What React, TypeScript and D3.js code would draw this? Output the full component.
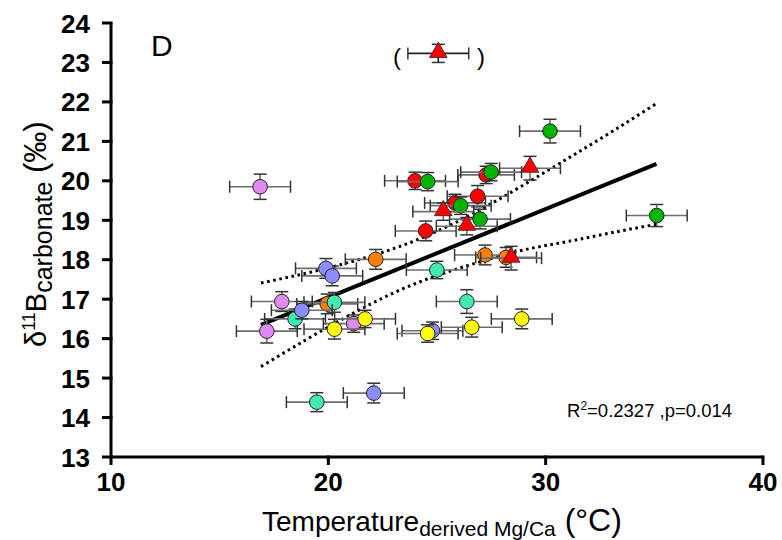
import React from 'react';
import * as d3 from 'd3';

// values (x = temperature °C, y = d11B ‰, xe/ye = error half-widths)
const violetPts = [
  [16.86, 19.85, 1.4, 0.32],
  [17.86, 16.94, 1.4, 0.25],
  [17.17, 16.19, 1.4, 0.3],
  [21.17, 16.38, 1.4, 0.22],
];
const bluePts = [
  [19.89, 17.78, 1.4, 0.25],
  [20.18, 17.59, 1.4, 0.25],
  [18.78, 16.72, 1.4, 0.22],
  [24.79, 16.2, 1.4, 0.22],
  [22.09, 14.62, 1.4, 0.25],
];
const tealPts = [
  [18.47, 16.5, 1.4, 0.25],
  [20.28, 16.92, 1.4, 0.25],
  [24.99, 17.74, 1.4, 0.22],
  [26.37, 16.94, 1.4, 0.3],
  [19.47, 14.39, 1.4, 0.24],
];
const orangePts = [
  [22.18, 18.01, 1.4, 0.25],
  [19.95, 16.88, 1.4, 0.25],
  [27.21, 18.12, 1.4, 0.25],
  [28.18, 18.06, 1.4, 0.25],
];
const yellowPts = [
  [20.28, 16.24, 1.4, 0.25],
  [21.69, 16.5, 1.4, 0.22],
  [24.57, 16.13, 1.4, 0.22],
  [26.6, 16.29, 1.4, 0.25],
  [28.9, 16.5, 1.4, 0.25],
];
const redPts = [
  [23.99, 20.0, 1.4, 0.22],
  [27.26, 20.15, 1.3, 0.22],
  [26.87, 19.61, 1.4, 0.27],
  [25.83, 19.44, 1.4, 0.22],
  [24.48, 18.73, 1.4, 0.25],
];
const greenPts = [
  [24.57, 19.98, 1.4, 0.23],
  [27.49, 20.22, 1.4, 0.22],
  [26.09, 19.37, 1.4, 0.22],
  [26.98, 19.03, 1.4, 0.25],
  [30.2, 21.26, 1.4, 0.3],
  [35.11, 19.12, 1.4, 0.28],
];
const redTriPts = [
  [29.28, 20.32, 1.4, 0.3],
  [25.29, 19.22, 1.4, 0.22],
  [26.37, 18.85, 1.4, 0.22],
  [28.41, 18.04, 1.4, 0.3],
];
const outlierPts = [[25.06, 23.23, 1.4, 0.23]];

const fitLine = [[16.9, 16.35], [35.1, 20.43]];
const upperBand = [[16.9, 17.41], [19, 17.66], [21, 17.94], [23, 18.28], [25, 18.72], [27, 19.27], [29, 19.9], [31, 20.56], [33, 21.23], [35.1, 21.96]];
const lowerBand = [[16.9, 15.29], [19, 15.98], [21, 16.6], [23, 17.16], [25, 17.6], [27, 17.95], [29, 18.25], [31, 18.46], [33, 18.68], [35.1, 18.9]];

const xTicks = [10, 20, 30, 40];
const yTicks = [13, 14, 15, 16, 17, 18, 19, 20, 21, 22, 23, 24];

const series = [
  { pts: orangePts, fill: '#ff8000', shape: 'circle', bar: '#6e6e6e' },
  { pts: tealPts, fill: '#40eab0', shape: 'circle', bar: '#6e6e6e' },
  { pts: violetPts, fill: '#e08af2', shape: 'circle', bar: '#6e6e6e' },
  { pts: bluePts, fill: '#8c8cff', shape: 'circle', bar: '#6e6e6e' },
  { pts: yellowPts, fill: '#ffff00', shape: 'circle', bar: '#6e6e6e' },
  { pts: redPts, fill: '#ff0000', shape: 'circle', bar: '#6e6e6e' },
  { pts: greenPts, fill: '#00b400', shape: 'circle', bar: '#6e6e6e' },
  { pts: redTriPts, fill: '#ff0000', shape: 'tri', bar: '#6e6e6e' },
  { pts: outlierPts, fill: '#ff0000', shape: 'tri', bar: '#222' },
];

const W = 782;
const H = 540;
const x = d3.scaleLinear().domain([10, 40]).range([111, 763]);
const y = d3.scaleLinear().domain([13, 24]).range([457, 23]);
const font = "'Liberation Sans', Arial, sans-serif";

const App = () => {
  const line = d3.line<number[]>().x(d => x(d[0])).y(d => y(d[1]));
  const band = d3.line<number[]>().x(d => x(d[0])).y(d => y(d[1])).curve(d3.curveNatural);
  const tri = d3.symbol().type(d3.symbolTriangle).size(135);

  return (
    <svg width={W} height={H} style={{ position: 'absolute', left: 0, top: 0, background: '#fff' }}>
      {/* fit + confidence band */}
      <path d={band(upperBand)!} fill="none" stroke="#000" strokeWidth={3} strokeDasharray="2.6 3.6" />
      <path d={band(lowerBand)!} fill="none" stroke="#000" strokeWidth={3} strokeDasharray="2.6 3.6" />
      <path d={line(fitLine)!} fill="none" stroke="#000" strokeWidth={4} />

      {series.map((s, si) => (
        <g key={si}>
          {s.pts.map((d, i) => {
            const cx = x(d[0]), cy = y(d[1]);
            const x0 = x(d[0] - d[2]), x1 = x(d[0] + d[2]);
            const y0 = y(d[1] + d[3]), y1 = y(d[1] - d[3]);
            return (
              <g key={i}>
                <line x1={x0} x2={x1} y1={cy} y2={cy} stroke={s.bar} strokeWidth={1.6} />
                <line x1={x0} x2={x0} y1={cy - 6} y2={cy + 6} stroke="#333" strokeWidth={1.5} />
                <line x1={x1} x2={x1} y1={cy - 6} y2={cy + 6} stroke="#333" strokeWidth={1.5} />
                <line x1={cx} x2={cx} y1={y0} y2={y1} stroke={s.bar} strokeWidth={1.6} />
                <line x1={cx - 6.5} x2={cx + 6.5} y1={y0} y2={y0} stroke="#333" strokeWidth={1.5} />
                <line x1={cx - 6.5} x2={cx + 6.5} y1={y1} y2={y1} stroke="#333" strokeWidth={1.5} />
              </g>
            );
          })}
          {s.pts.map((d, i) =>
            s.shape === 'circle' ? (
              <circle key={'m' + i} cx={x(d[0])} cy={y(d[1])} r={7.3} fill={s.fill} stroke="#222" strokeWidth={1} />
            ) : (
              <path key={'m' + i} d={tri()!} transform={`translate(${x(d[0])},${y(d[1]) - 1})`} fill={s.fill} stroke="#222" strokeWidth={0.8} />
            )
          )}
        </g>
      ))}

      {/* axes */}
      <g stroke="#000" strokeWidth={3} fill="none">
        <line x1={x(10)} x2={x(40)} y1={y(13)} y2={y(13)} />
        <line x1={x(10)} x2={x(10)} y1={y(13) + 1.5} y2={y(24)} />
        {xTicks.map(t => (
          <line key={'xt' + t} x1={x(t)} x2={x(t)} y1={y(13) - 1.5} y2={y(13) + 8} />
        ))}
        {yTicks.map(t => (
          <line key={'yt' + t} x1={x(10) - 9} x2={x(10) + 1.5} y1={y(t)} y2={y(t)} />
        ))}
      </g>
      <g fontFamily={font} fontWeight="bold" fontSize={26} fill="#000">
        {xTicks.map(t => (
          <text key={'xl' + t} x={x(t)} y={491} textAnchor="middle">{t}</text>
        ))}
        {yTicks.map(t => (
          <text key={'yl' + t} x={90} y={y(t) + 9.5} textAnchor="end">{t}</text>
        ))}
      </g>

      {/* titles */}
      <text x={262} y={531} fontFamily={font} fontSize={28} fill="#000">
        Temperature
        <tspan fontSize={21} dy={5}>derived Mg/Ca</tspan>
        <tspan fontSize={32} dy={-5}> (°C)</tspan>
      </text>
      <text transform="translate(46,347) rotate(-90)" fontFamily={font} fontSize={29} fill="#000">
        δ<tspan fontSize={18} dy={-11}>11</tspan>
        <tspan dy={11}>B</tspan>
        <tspan fontSize={25} dy={6}>carbonate</tspan>
        <tspan fontSize={31} dy={-6}> (‰)</tspan>
      </text>

      <text x={151} y={56} fontFamily={font} fontSize={30} fill="#000">D</text>
      <text x={393} y={65} fontFamily={font} fontSize={24} fill="#000">(</text>
      <text x={477} y={65} fontFamily={font} fontSize={24} fill="#000">)</text>

      <text x={567} y={417} fontFamily={font} fontSize={18.5} fill="#000">
        R<tspan fontSize={12} dy={-7}>2</tspan>
        <tspan dy={7}>=0.2327 ,p=0.014</tspan>
      </text>
    </svg>
  );
};

export default App;
